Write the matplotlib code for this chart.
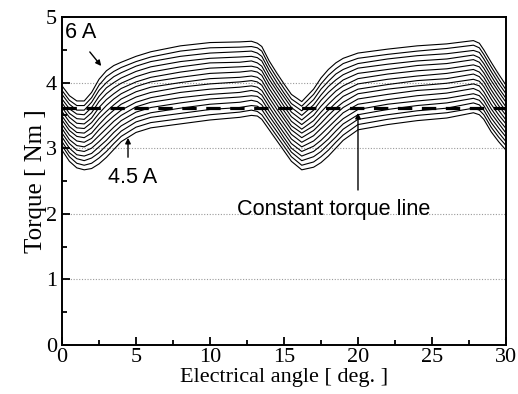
import numpy as np
import matplotlib
matplotlib.use("Agg")
import matplotlib.pyplot as plt
from matplotlib.ticker import MultipleLocator

# electrical angle sample points [deg]
angle = [0, 0.5, 1, 1.5, 2, 2.5, 3, 3.5, 4, 5, 6, 8, 10, 12, 12.8, 13.2, 13.5,
         14, 14.5, 15, 15.5, 16.2, 17, 17.5, 18, 18.5, 19, 20, 22, 24, 26,
         27.8, 28.2, 28.5, 29, 29.5, 30]

# phase currents, 4.5 A ... 6.0 A
currents = [4.5, 4.6, 4.7, 4.8, 4.9, 5.0, 5.1, 5.2, 5.3, 5.4, 5.5, 5.6, 5.7,
            5.8, 5.9, 6.0]

# torque [Nm], one row per angle, one column per current
torque_by_angle = [
    [2.97, 3.04, 3.10, 3.17, 3.23, 3.30, 3.36, 3.43, 3.49, 3.56, 3.62, 3.69, 3.75, 3.82, 3.88, 3.95],  # 0
    [2.80, 2.87, 2.93, 3.00, 3.07, 3.13, 3.20, 3.27, 3.33, 3.40, 3.47, 3.53, 3.60, 3.67, 3.73, 3.80],  # 0.5
    [2.70, 2.77, 2.84, 2.90, 2.97, 3.04, 3.11, 3.18, 3.24, 3.31, 3.38, 3.45, 3.52, 3.58, 3.65, 3.72],  # 1
    [2.67, 2.74, 2.81, 2.88, 2.95, 3.02, 3.09, 3.16, 3.23, 3.30, 3.37, 3.44, 3.51, 3.58, 3.65, 3.72],  # 1.5
    [2.69, 2.77, 2.85, 2.92, 3.00, 3.08, 3.15, 3.23, 3.31, 3.39, 3.46, 3.54, 3.62, 3.70, 3.77, 3.85],  # 2
    [2.76, 2.85, 2.93, 3.02, 3.10, 3.19, 3.28, 3.36, 3.45, 3.53, 3.62, 3.71, 3.79, 3.88, 3.96, 4.05],  # 2.5
    [2.86, 2.95, 3.04, 3.12, 3.21, 3.30, 3.39, 3.48, 3.56, 3.65, 3.74, 3.83, 3.92, 4.00, 4.09, 4.18],  # 3
    [2.98, 3.07, 3.15, 3.24, 3.32, 3.41, 3.49, 3.58, 3.66, 3.75, 3.83, 3.92, 4.00, 4.09, 4.17, 4.26],  # 3.5
    [3.10, 3.18, 3.26, 3.34, 3.42, 3.50, 3.58, 3.67, 3.75, 3.83, 3.91, 3.99, 4.07, 4.15, 4.23, 4.31],  # 4
    [3.24, 3.32, 3.40, 3.47, 3.55, 3.63, 3.70, 3.78, 3.86, 3.94, 4.01, 4.09, 4.17, 4.25, 4.32, 4.40],  # 5
    [3.31, 3.39, 3.47, 3.54, 3.62, 3.70, 3.77, 3.85, 3.93, 4.01, 4.08, 4.16, 4.24, 4.32, 4.39, 4.47],  # 6
    [3.37, 3.45, 3.53, 3.61, 3.69, 3.77, 3.85, 3.93, 4.00, 4.08, 4.16, 4.24, 4.32, 4.40, 4.48, 4.56],  # 8
    [3.43, 3.51, 3.59, 3.67, 3.75, 3.82, 3.90, 3.98, 4.06, 4.14, 4.22, 4.30, 4.37, 4.45, 4.53, 4.61],  # 10
    [3.47, 3.55, 3.62, 3.70, 3.78, 3.85, 3.93, 4.01, 4.08, 4.16, 4.24, 4.31, 4.39, 4.47, 4.54, 4.62],  # 12
    [3.50, 3.58, 3.65, 3.73, 3.80, 3.88, 3.95, 4.03, 4.10, 4.18, 4.25, 4.33, 4.40, 4.48, 4.55, 4.63],  # 12.8
    [3.49, 3.56, 3.64, 3.71, 3.79, 3.86, 3.93, 4.01, 4.08, 4.16, 4.23, 4.30, 4.38, 4.45, 4.53, 4.60],  # 13.2
    [3.44, 3.51, 3.59, 3.66, 3.74, 3.81, 3.88, 3.96, 4.03, 4.11, 4.18, 4.25, 4.33, 4.40, 4.48, 4.55],  # 13.5
    [3.28, 3.35, 3.42, 3.49, 3.56, 3.63, 3.70, 3.77, 3.84, 3.91, 3.98, 4.05, 4.12, 4.19, 4.26, 4.33],  # 14
    [3.12, 3.19, 3.26, 3.33, 3.39, 3.46, 3.53, 3.60, 3.67, 3.74, 3.81, 3.88, 3.94, 4.01, 4.08, 4.15],  # 14.5
    [2.96, 3.03, 3.10, 3.16, 3.23, 3.30, 3.37, 3.44, 3.50, 3.57, 3.64, 3.71, 3.78, 3.84, 3.91, 3.98],  # 15
    [2.80, 2.87, 2.94, 3.00, 3.07, 3.14, 3.21, 3.28, 3.34, 3.41, 3.48, 3.55, 3.62, 3.68, 3.75, 3.82],  # 15.5
    [2.67, 2.74, 2.81, 2.88, 2.95, 3.02, 3.09, 3.16, 3.23, 3.29, 3.36, 3.43, 3.50, 3.57, 3.64, 3.71],  # 16.2
    [2.71, 2.79, 2.87, 2.95, 3.03, 3.11, 3.19, 3.27, 3.34, 3.42, 3.50, 3.58, 3.66, 3.74, 3.82, 3.90],  # 17
    [2.78, 2.87, 2.95, 3.04, 3.12, 3.21, 3.30, 3.38, 3.47, 3.55, 3.64, 3.73, 3.81, 3.90, 3.98, 4.07],  # 17.5
    [2.88, 2.97, 3.06, 3.14, 3.23, 3.32, 3.41, 3.50, 3.58, 3.67, 3.76, 3.85, 3.94, 4.02, 4.11, 4.20],  # 18
    [3.00, 3.09, 3.17, 3.26, 3.35, 3.43, 3.52, 3.61, 3.69, 3.78, 3.87, 3.95, 4.04, 4.13, 4.21, 4.30],  # 18.5
    [3.12, 3.20, 3.29, 3.37, 3.45, 3.54, 3.62, 3.70, 3.79, 3.87, 3.95, 4.04, 4.12, 4.20, 4.29, 4.37],  # 19
    [3.28, 3.36, 3.44, 3.51, 3.59, 3.67, 3.75, 3.83, 3.90, 3.98, 4.06, 4.14, 4.22, 4.29, 4.37, 4.45],  # 20
    [3.36, 3.44, 3.51, 3.59, 3.67, 3.74, 3.82, 3.90, 3.97, 4.05, 4.13, 4.20, 4.28, 4.36, 4.43, 4.51],  # 22
    [3.42, 3.50, 3.57, 3.65, 3.72, 3.80, 3.88, 3.95, 4.03, 4.10, 4.18, 4.26, 4.33, 4.41, 4.48, 4.56],  # 24
    [3.46, 3.54, 3.61, 3.69, 3.76, 3.84, 3.91, 3.99, 4.06, 4.14, 4.21, 4.29, 4.36, 4.44, 4.52, 4.59],  # 26
    [3.54, 3.61, 3.69, 3.76, 3.83, 3.91, 3.98, 4.05, 4.13, 4.20, 4.27, 4.35, 4.42, 4.49, 4.57, 4.64],  # 27.8
    [3.51, 3.58, 3.66, 3.73, 3.80, 3.87, 3.95, 4.02, 4.09, 4.16, 4.24, 4.31, 4.38, 4.46, 4.53, 4.60],  # 28.2
    [3.44, 3.51, 3.58, 3.65, 3.72, 3.79, 3.86, 3.94, 4.01, 4.08, 4.15, 4.22, 4.29, 4.36, 4.43, 4.50],  # 28.5
    [3.25, 3.32, 3.39, 3.46, 3.53, 3.60, 3.67, 3.75, 3.82, 3.89, 3.96, 4.03, 4.10, 4.17, 4.24, 4.31],  # 29
    [3.10, 3.17, 3.24, 3.31, 3.38, 3.44, 3.51, 3.58, 3.65, 3.72, 3.79, 3.86, 3.92, 3.99, 4.06, 4.13],  # 29.5
    [2.97, 3.04, 3.10, 3.17, 3.23, 3.30, 3.37, 3.43, 3.50, 3.56, 3.63, 3.70, 3.76, 3.83, 3.89, 3.96],  # 30
]

constant_torque = 3.62

serif = "Liberation Serif"
sans = "Liberation Sans"

torque = np.array(torque_by_angle).T

fig = plt.figure(figsize=(5.18, 3.94), dpi=100)
ax = fig.add_axes([0.1197, 0.1244, 0.8571, 0.8325])

for row in torque:
    ax.plot(angle, row, color="black", lw=0.8)

ax.plot([0, 30], [constant_torque, constant_torque], color="black",
        lw=2.3, dashes=[4.5, 3])

# dotted horizontal grid
for yv in [1, 2, 3, 4]:
    ax.axhline(yv, color="#9a9a9a", lw=0.8, ls=(0, (1, 1.5)), zorder=0)

ax.set_xlim(0, 30)
ax.set_ylim(0, 5)
ax.xaxis.set_major_locator(MultipleLocator(5))
ax.xaxis.set_minor_locator(MultipleLocator(2.5))
ax.yaxis.set_major_locator(MultipleLocator(1))
ax.yaxis.set_minor_locator(MultipleLocator(0.5))
ax.tick_params(which="both", direction="in", top=False, right=False,
               width=1.3, labelsize=16)
ax.tick_params(axis="x", pad=2)
ax.tick_params(which="major", length=6)
ax.tick_params(which="minor", length=3.5)
for lab in ax.get_xticklabels() + ax.get_yticklabels():
    lab.set_fontfamily(serif)
for s in ax.spines.values():
    s.set_linewidth(1.4)

ax.set_xlabel("Electrical angle [ deg. ]", fontsize=16, family=serif,
              labelpad=1)
ax.set_ylabel("Torque [ Nm ]", fontsize=18, family=serif, labelpad=-1)

ax.text(0.2, 4.77, "6 A", fontsize=15.6, family=sans, va="center")
ax.annotate("", xy=(2.77, 4.22), xytext=(1.76, 4.5),
            arrowprops=dict(arrowstyle="-|>", color="black", lw=1,
                            mutation_scale=8))
ax.text(3.1, 2.56, "4.5 A", fontsize=15.6, family=sans, va="center")
ax.annotate("", xy=(4.46, 3.2), xytext=(4.46, 2.82),
            arrowprops=dict(arrowstyle="-|>", color="black", lw=1,
                            mutation_scale=8))
ax.text(11.8, 2.07, "Constant torque line", fontsize=15.6, family=sans,
        va="center")
ax.annotate("", xy=(20, 3.58), xytext=(20, 2.32),
            arrowprops=dict(arrowstyle="-|>", color="black", lw=1,
                            mutation_scale=8))

fig.savefig("out.png", dpi=100)
